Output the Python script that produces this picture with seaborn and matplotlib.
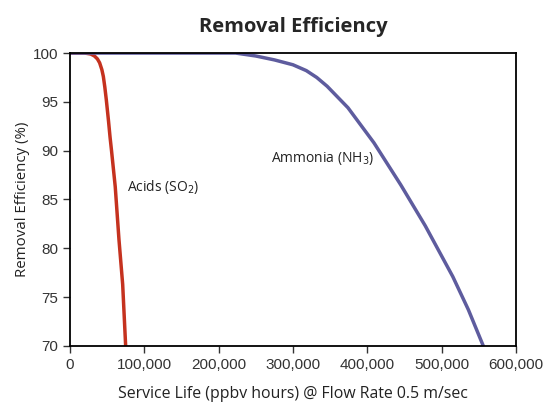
import matplotlib
matplotlib.use("Agg")
import matplotlib.pyplot as plt
import matplotlib.ticker as mticker
import pandas as pd
import seaborn as sns

# values
acid_hours = [0, 20000, 28000, 33000, 37000, 40000, 43000, 45000, 47000, 49000, 52000,
              54000, 56000, 61000, 66000, 71000, 75000]
acid_eff = [100, 100, 99.9, 99.7, 99.4, 99.0, 98.3, 97.6, 96.5, 95.2, 93.0,
            91.4, 90.0, 86.3, 80.9, 76.3, 70.0]

ammonia_hours = [0, 100000, 223000, 250000, 275000, 300000, 318000, 332000, 346000, 374000,
                 409000, 445000, 478000, 515000, 536000, 556000]
ammonia_eff = [100, 100, 100, 99.7, 99.3, 98.8, 98.2, 97.5, 96.6, 94.4,
               90.8, 86.5, 82.3, 77.1, 73.7, 70.0]

x_ticks = [0, 100000, 200000, 300000, 400000, 500000, 600000]
y_ticks = [70, 75, 80, 85, 90, 95, 100]

acid_color = "#c5321f"
ammonia_color = "#5e5c9e"

df = pd.concat([
    pd.DataFrame({"hours": acid_hours, "eff": acid_eff, "gas": "Acids"}),
    pd.DataFrame({"hours": ammonia_hours, "eff": ammonia_eff, "gas": "Ammonia"}),
])

sns.set_style("white")
plt.rcParams["font.family"] = ["Open Sans", "DejaVu Sans"]

fig = plt.figure(figsize=(5.46, 4.05), dpi=100)
ax = fig.add_axes([0.128, 0.146, 0.817, 0.723])

sns.lineplot(data=df, x="hours", y="eff", hue="gas",
             palette={"Acids": acid_color, "Ammonia": ammonia_color},
             linewidth=2.5, legend=False, ax=ax)

ax.set_xlim(0, 600000)
ax.set_ylim(70, 100)
ax.set_xticks(x_ticks)
ax.set_yticks(y_ticks)
ax.xaxis.set_major_formatter(mticker.FuncFormatter(lambda v, p: f"{int(v):,}"))
ax.tick_params(axis="both", direction="out", length=5, width=1, color="#333333",
               labelsize=11, colors="#333333", bottom=True, left=True)
for lab in ax.get_xticklabels() + ax.get_yticklabels():
    lab.set_family(["Liberation Sans", "DejaVu Sans"])
for s in ax.spines.values():
    s.set_color("black")
    s.set_linewidth(1.3)

ax.set_xlabel("Service Life (ppbv hours) @ Flow Rate 0.5 m/sec", fontsize=11.4, color="#222222",
              labelpad=10)
ax.set_ylabel("Removal Efficiency (%)", fontsize=10.8, color="#222222", labelpad=2)
ax.set_title("Removal Efficiency", fontsize=14.5, fontweight="bold", pad=15)

ax.text(77000, 86.3, r"Acids (SO$_2$)", fontsize=10, va="center", ha="left", color="#222222")
ax.text(270000, 89.2, r"Ammonia (NH$_3$)", fontsize=10, va="center", ha="left", color="#222222")

fig.savefig("out.png", dpi=100)
